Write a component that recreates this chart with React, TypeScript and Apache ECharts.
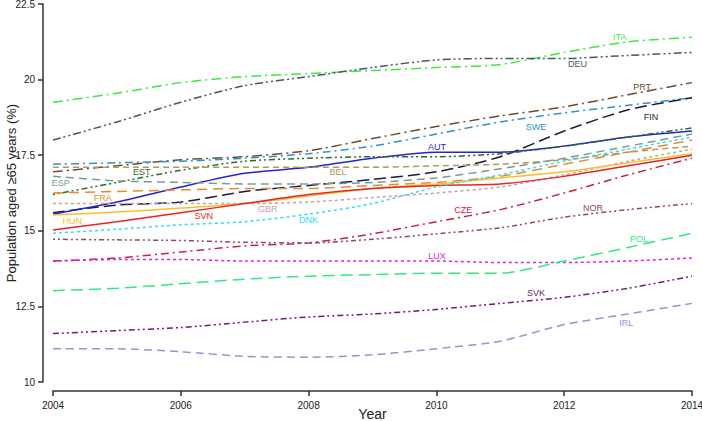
import React, { useEffect, useRef } from "react";
import * as echarts from "echarts";

const years = [2004, 2005, 2006, 2007, 2008, 2009, 2010, 2011, 2012, 2013, 2014];
const yTicks = [10, 12.5, 15, 17.5, 20, 22.5];

const ITA = [19.25, 19.55, 19.9, 20.1, 20.2, 20.3, 20.4, 20.5, 20.9, 21.25, 21.4];
const DEU = [18.0, 18.6, 19.25, 19.8, 20.1, 20.4, 20.65, 20.7, 20.7, 20.8, 20.9];
const PRT = [16.95, 17.15, 17.35, 17.45, 17.65, 18.05, 18.45, 18.8, 19.1, 19.5, 19.9];
const SWE = [17.2, 17.25, 17.3, 17.4, 17.55, 17.8, 18.2, 18.6, 18.9, 19.15, 19.4];
const FIN = [15.6, 15.85, 15.95, 16.3, 16.5, 16.7, 16.95, 17.45, 18.3, 19.0, 19.4];
const AUT = [15.55, 15.95, 16.45, 16.9, 17.1, 17.4, 17.6, 17.6, 17.8, 18.1, 18.3];
const EST = [16.2, 16.6, 17.0, 17.3, 17.4, 17.45, 17.45, 17.55, 17.8, 18.1, 18.4];
const BEL = [17.1, 17.1, 17.1, 17.1, 17.1, 17.1, 17.15, 17.2, 17.35, 17.6, 17.8];
const ESP = [16.8, 16.65, 16.6, 16.55, 16.55, 16.6, 16.75, 17.05, 17.4, 17.8, 18.2];
const FRA = [16.25, 16.3, 16.35, 16.4, 16.4, 16.5, 16.6, 16.8, 17.2, 17.6, 18.0];
const GBR = [15.9, 15.9, 15.9, 15.9, 15.95, 16.1, 16.25, 16.45, 16.85, 17.3, 17.7];
const HUN = [15.52, 15.62, 15.75, 15.9, 16.15, 16.4, 16.55, 16.75, 16.95, 17.25, 17.55];
const SVN = [15.03, 15.3, 15.6, 15.9, 16.2, 16.4, 16.5, 16.55, 16.8, 17.15, 17.5];
const DNK = [14.92, 15.05, 15.2, 15.3, 15.55, 15.9, 16.45, 16.85, 17.3, 17.7, 18.1];
const CZE = [14.0, 14.1, 14.3, 14.5, 14.6, 14.9, 15.3, 15.7, 16.25, 16.85, 17.4];
const NOR = [14.72, 14.7, 14.68, 14.62, 14.6, 14.72, 14.9, 15.1, 15.45, 15.7, 15.9];
const LUX = [14.0, 14.05, 14.05, 14.0, 14.0, 14.0, 14.0, 13.95, 13.95, 14.0, 14.1];
const POL = [13.02, 13.1, 13.25, 13.4, 13.5, 13.55, 13.6, 13.6, 14.0, 14.45, 14.92];
const SVK = [11.6, 11.7, 11.8, 11.98, 12.15, 12.25, 12.4, 12.6, 12.8, 13.1, 13.5];
const IRL = [11.1, 11.1, 11.0, 10.85, 10.82, 10.9, 11.1, 11.35, 11.9, 12.25, 12.6];

// label anchor positions in data coordinates [year, value]
const labelPos: Record<string, [number, number]> = {
  ITA: [2012.87, 21.41],
  DEU: [2012.21, 20.5],
  PRT: [2013.22, 19.76],
  SWE: [2011.56, 18.43],
  FIN: [2013.36, 18.76],
  AUT: [2010.01, 17.77],
  EST: [2005.39, 16.94],
  BEL: [2008.46, 16.94],
  ESP: [2004.12, 16.58],
  FRA: [2004.78, 16.1],
  GBR: [2007.36, 15.72],
  HUN: [2004.3, 15.32],
  SVN: [2006.36, 15.48],
  DNK: [2008.0, 15.35],
  CZE: [2010.42, 15.68],
  NOR: [2012.45, 15.77],
  LUX: [2010.01, 14.17],
  POL: [2013.17, 14.73],
  SVK: [2011.56, 12.95],
  IRL: [2012.97, 11.95],
};

const seriesDefs: { name: string; data: number[]; color: string; dash: number[] | "solid" }[] = [
  { name: "ITA", data: ITA, color: "#3ee83e", dash: [10, 4, 2, 4] },
  { name: "DEU", data: DEU, color: "#3f5c5c", dash: [8, 3, 2, 3, 2, 3] },
  { name: "PRT", data: PRT, color: "#6e4b2c", dash: [10, 4, 2, 4] },
  { name: "SWE", data: SWE, color: "#3090c8", dash: [8, 4, 2, 4] },
  { name: "FIN", data: FIN, color: "#1c1c3c", dash: [12, 5] },
  { name: "AUT", data: AUT, color: "#2424d0", dash: "solid" },
  { name: "EST", data: EST, color: "#2a6a2a", dash: [2, 3, 2, 3, 6, 3] },
  { name: "BEL", data: BEL, color: "#b09858", dash: [6, 4] },
  { name: "ESP", data: ESP, color: "#7a9a9a", dash: [8, 5] },
  { name: "FRA", data: FRA, color: "#e88a30", dash: [10, 6] },
  { name: "GBR", data: GBR, color: "#c4a0a0", dash: [3, 3] },
  { name: "HUN", data: HUN, color: "#f5c030", dash: "solid" },
  { name: "SVN", data: SVN, color: "#e82424", dash: "solid" },
  { name: "DNK", data: DNK, color: "#30dcf0", dash: [3, 3] },
  { name: "CZE", data: CZE, color: "#c42440", dash: [8, 4, 2, 4] },
  { name: "NOR", data: NOR, color: "#944858", dash: [2, 3, 2, 3, 5, 3] },
  { name: "LUX", data: LUX, color: "#e020e0", dash: [3, 3] },
  { name: "POL", data: POL, color: "#30e884", dash: [12, 6] },
  { name: "SVK", data: SVK, color: "#741a74", dash: [6, 3, 2, 3, 2, 3] },
  { name: "IRL", data: IRL, color: "#9494d4", dash: [8, 5] },
];

export default function App() {
  const ref = useRef<HTMLDivElement>(null);
  useEffect(() => {
    if (!ref.current) return;
    const chart = echarts.init(ref.current, undefined, { renderer: "svg" });
    const font = "Liberation Sans, Arial, sans-serif";
    const series: any[] = seriesDefs.map((s) => ({
      name: s.name,
      type: "line",
      data: years.map((y, i) => [y, s.data[i]]),
      smooth: 0.25,
      symbol: "none",
      lineStyle: { color: s.color, width: 1.5, type: s.dash },
      itemStyle: { color: s.color },
      z: 2,
      markPoint: {
        silent: true,
        symbol: "circle",
        symbolSize: 0,
        data: [{ coord: labelPos[s.name] }],
        label: {
          show: true,
          position: "inside",
          formatter: s.name,
          color: s.color,
          fontSize: 9,
          fontFamily: font,
        },
      },
    }));
    chart.setOption({
      animation: false,
      backgroundColor: "#ffffff",
      grid: {
        left: 53,
        right: 10,
        top: 4,
        bottom: 39,
        containLabel: false,
        outerBoundsMode: "none",
      },
      xAxis: {
        type: "value",
        min: 2004,
        max: 2014,
        interval: 2,
        offset: 9,
        name: "Year",
        nameLocation: "middle",
        nameGap: 16,
        nameMoveOverlap: false,
        nameTextStyle: { fontSize: 14, color: "#222", fontFamily: font },
        axisLine: { show: true, lineStyle: { color: "#333", width: 1.5 } },
        axisTick: { show: true, length: 5, lineStyle: { color: "#333", width: 1.5 } },
        axisLabel: { fontSize: 10, color: "#222", fontFamily: font, margin: 9, formatter: (v: number) => String(v) },
        splitLine: { show: false },
      },
      yAxis: {
        type: "value",
        min: 10,
        max: 22.5,
        interval: 2.5,
        offset: 10,
        name: "Population aged \u226565 years (%)",
        nameLocation: "middle",
        nameGap: 25,
        nameRotate: 90,
        nameMoveOverlap: false,
        nameTextStyle: { fontSize: 13, color: "#222", fontFamily: font },
        axisLine: { show: true, lineStyle: { color: "#333", width: 1.5 } },
        axisTick: { show: true, length: 5, lineStyle: { color: "#333", width: 1.5 } },
        axisLabel: { fontSize: 10, color: "#222", fontFamily: font, margin: 8, formatter: (v: number) => String(v) },
        splitLine: { show: false },
      },
      series,
    });
    return () => chart.dispose();
  }, []);
  return <div ref={ref} style={{ position: "fixed", left: 0, top: 0, width: 702, height: 421 }} />;
}
